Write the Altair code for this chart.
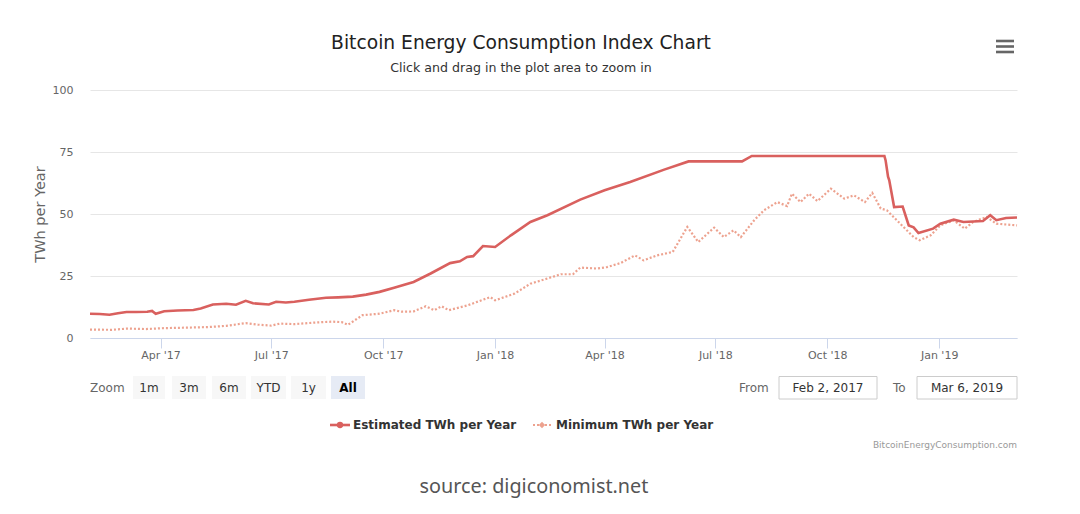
import altair as alt
import pandas as pd

# ---------------- data ----------------
est_dates = [
    "2017-02-02", "2017-02-10", "2017-02-18", "2017-02-25", "2017-03-04", "2017-03-12",
    "2017-03-21", "2017-03-25", "2017-03-28", "2017-04-04", "2017-04-15", "2017-04-28",
    "2017-05-04", "2017-05-14", "2017-05-25", "2017-06-02", "2017-06-10", "2017-06-16",
    "2017-06-29", "2017-07-05", "2017-07-13", "2017-07-20", "2017-08-01", "2017-08-15",
    "2017-08-25", "2017-09-06", "2017-09-17", "2017-09-28", "2017-10-10", "2017-10-26",
    "2017-11-09", "2017-11-25", "2017-12-03", "2017-12-09", "2017-12-14", "2017-12-22",
    "2018-01-01", "2018-01-14", "2018-01-30", "2018-02-13", "2018-03-12", "2018-04-01",
    "2018-04-22", "2018-05-20", "2018-06-09", "2018-07-23", "2018-07-31", "2018-11-17",
    "2018-11-18", "2018-11-20", "2018-11-21", "2018-11-25", "2018-12-02", "2018-12-07",
    "2018-12-11", "2018-12-15", "2018-12-27", "2019-01-02", "2019-01-13", "2019-01-21",
    "2019-02-06", "2019-02-12", "2019-02-17", "2019-02-25", "2019-03-06",
]
est_values = [
    9.8, 9.7, 9.4, 10.0, 10.5, 10.5,
    10.6, 10.9, 9.8, 10.8, 11.1, 11.3,
    11.9, 13.5, 13.8, 13.4, 15.0, 14.0,
    13.5, 14.6, 14.3, 14.6, 15.4, 16.2,
    16.4, 16.7, 17.5, 18.6, 20.3, 22.6,
    26.0, 30.2, 30.9, 32.7, 33.0, 37.1,
    36.7, 41.4, 46.8, 49.5, 55.8, 59.6,
    62.9, 67.9, 71.2, 71.2, 73.4, 73.4,
    71.6, 65.0, 63.6, 52.8, 53.0, 45.4,
    44.6, 42.3, 44.1, 46.1, 47.7, 46.8,
    47.2, 49.5, 47.5, 48.4, 48.6,
]

min_dates = [
    "2017-02-02", "2017-02-20", "2017-03-05", "2017-03-20", "2017-04-05", "2017-04-25",
    "2017-05-10", "2017-05-25", "2017-06-10", "2017-06-20", "2017-07-01", "2017-07-08",
    "2017-07-20", "2017-08-05", "2017-08-20", "2017-08-28", "2017-09-02", "2017-09-14",
    "2017-09-28", "2017-10-10", "2017-10-16", "2017-10-26", "2017-11-05", "2017-11-12",
    "2017-11-18", "2017-11-24", "2017-12-09", "2017-12-28", "2018-01-01", "2018-01-17",
    "2018-01-30", "2018-02-13", "2018-02-24", "2018-03-06", "2018-03-12", "2018-03-26",
    "2018-04-03", "2018-04-14", "2018-04-26", "2018-05-03", "2018-05-14", "2018-05-27",
    "2018-06-08", "2018-06-17", "2018-06-30", "2018-07-08", "2018-07-16", "2018-07-22",
    "2018-08-02", "2018-08-10", "2018-08-21", "2018-08-29", "2018-09-02", "2018-09-09",
    "2018-09-16", "2018-09-23", "2018-10-04", "2018-10-15", "2018-10-23", "2018-11-01",
    "2018-11-07", "2018-11-14", "2018-11-19", "2018-11-30", "2018-12-11", "2018-12-16",
    "2018-12-25", "2019-01-02", "2019-01-13", "2019-01-22", "2019-01-29", "2019-02-09",
    "2019-02-17", "2019-03-06",
]
min_values = [
    3.4, 3.3, 3.8, 3.6, 4.0, 4.2,
    4.4, 4.9, 6.0, 5.4, 5.0, 5.8,
    5.6, 6.2, 6.6, 6.4, 5.3, 9.2,
    9.8, 11.2, 10.6, 10.7, 12.8, 11.2,
    12.8, 11.2, 13.1, 16.5, 15.2, 17.9,
    21.9, 24.0, 25.7, 25.7, 28.4, 28.0,
    28.6, 30.2, 33.3, 31.3, 33.3, 34.7,
    44.8, 38.7, 44.5, 40.7, 43.4, 40.7,
    47.5, 51.5, 54.8, 53.2, 58.2, 54.8,
    58.2, 55.2, 60.2, 56.2, 57.5, 54.8,
    58.5, 52.2, 51.5, 46.1, 40.7, 39.4,
    41.4, 45.4, 47.5, 44.1, 46.8, 48.8,
    46.1, 45.4,
]

y_ticks = [0, 25, 50, 75, 100]
x_tick_months = [(2017, 4), (2017, 7), (2017, 10), (2018, 1), (2018, 4),
                 (2018, 7), (2018, 10), (2019, 1)]
zoom_buttons = ["1m", "3m", "6m", "YTD", "1y", "All"]

title_text = "Bitcoin Energy Consumption Index Chart"
subtitle_text = "Click and drag in the plot area to zoom in"
series_names = ["Estimated TWh per Year", "Minimum TWh per Year"]
from_text = "Feb 2, 2017"
to_text = "Mar 6, 2019"
credit_text = "BitcoinEnergyConsumption.com"
source_text = "source: digiconomist.net"

# ---------------- styling ----------------
FONT = "DejaVu Sans"
W, H = 927, 248
EST_COLOR = "#d9605e"
MIN_COLOR = "#eda28f"

est_df = pd.DataFrame({"date": est_dates, "value": est_values})
min_df = pd.DataFrame({"date": min_dates, "value": min_values})
one = pd.DataFrame({"k": [0]})

x_enc = alt.X(
    "date:T",
    scale=alt.Scale(
        type="utc",
        domain=[alt.DateTime(year=2017, month=2, date=2, utc=True),
                alt.DateTime(year=2019, month=3, date=6, utc=True)],
    ),
    axis=alt.Axis(
        values=[alt.DateTime(year=y, month=m, date=1, utc=True) for y, m in x_tick_months],
        labelExpr="utcFormat(datum.value, \"%b '%y\")",
        labelFont=FONT, labelFontSize=11, labelColor="#666666",
        domainColor="#ccd6eb", tickColor="#ccd6eb", tickSize=10,
        grid=False, labelPadding=1, title=None, labelFlush=False,
    ),
)
y_enc = alt.Y(
    "value:Q",
    scale=alt.Scale(domain=[0, 100], nice=False),
    axis=alt.Axis(
        values=y_ticks, grid=True, gridColor="#e6e6e6", domain=False, ticks=False,
        labelPadding=17, labelFont=FONT, labelFontSize=11, labelColor="#666666",
        title="TWh per Year", titleFont=FONT, titleFontSize=14.5, titleColor="#666666",
        titleFontWeight="normal", titleX=-50, titleY=H / 2, titleAngle=270,
        titleAlign="center", titleBaseline="middle",
    ),
)

min_line = alt.Chart(min_df).mark_line(
    color=MIN_COLOR, strokeWidth=2.2, strokeDash=[2, 2]
).encode(x=x_enc, y=y_enc)
est_line = alt.Chart(est_df).mark_line(
    color=EST_COLOR, strokeWidth=2.6
).encode(x=x_enc, y=y_enc)


def txt(s, x, y, size=12, color="#333333", align="left", weight="normal", font=FONT):
    return alt.Chart(one).mark_text(
        text=s, align=align, baseline="middle", fontSize=size, color=color,
        fontWeight=weight, font=font,
    ).encode(x=alt.value(x), y=alt.value(y))


def box(x0, x1, y0, y1, fill, stroke=None):
    kw = dict(fill=fill)
    if stroke:
        kw.update(stroke=stroke, strokeWidth=1)
    return alt.Chart(one).mark_rect(**kw).encode(
        x=alt.value(x0), x2=alt.value(x1), y=alt.value(y0), y2=alt.value(y1))


def hline(x0, x1, y, color, width, dash=None):
    kw = dict(color=color, strokeWidth=width)
    if dash:
        kw.update(strokeDash=dash)
    return alt.Chart(one).mark_rule(**kw).encode(
        x=alt.value(x0), x2=alt.value(x1), y=alt.value(y))


def dot(x, y, shape, color, size):
    return alt.Chart(one).mark_point(shape=shape, filled=True, color=color, size=size,
                                     opacity=1).encode(x=alt.value(x), y=alt.value(y))


decor = []
# title / subtitle
decor.append(txt(title_text, 431, -47, size=18.7, color="#222222", align="center"))
decor.append(txt(subtitle_text, 431, -22, size=12.6, color="#333333", align="center"))
# hamburger menu
for yy in (-49, -43.5, -38):
    decor.append(hline(906, 924, yy, "#666666", 2.6))

# range selector
decor.append(txt("Zoom", 0, 297.5, size=12, color="#666666"))
btn_x = [(43, 75), (82, 116), (122, 156), (161, 196), (201, 236), (241, 275)]
for lbl, (bx0, bx1) in zip(zoom_buttons, btn_x):
    sel = lbl == "All"
    decor.append(box(bx0, bx1, 286, 309, "#e6ebf5" if sel else "#f7f7f7"))
    decor.append(txt(lbl, (bx0 + bx1) / 2, 297.5, size=12,
                     color="#000000" if sel else "#333333", align="center",
                     weight="bold" if sel else "normal"))

decor.append(txt("From", 649, 297.5, size=12, color="#666666"))
decor.append(box(689, 787, 286.5, 309, "#ffffff", "#cccccc"))
decor.append(txt(from_text, 738, 297.5, size=12, color="#333333", align="center"))
decor.append(txt("To", 803, 297.5, size=12, color="#666666"))
decor.append(box(827, 927, 286.5, 309, "#ffffff", "#cccccc"))
decor.append(txt(to_text, 877, 297.5, size=12, color="#333333", align="center"))

# legend
decor.append(hline(240, 260, 335, EST_COLOR, 2.6))
decor.append(dot(250, 335, "circle", EST_COLOR, 40))
decor.append(txt(series_names[0], 263, 335, size=12, color="#333333", weight="bold"))
decor.append(hline(443, 461, 335, MIN_COLOR, 2.2, dash=[2, 2]))
decor.append(dot(452, 335, "diamond", MIN_COLOR, 40))
decor.append(txt(series_names[1], 466, 335, size=12, color="#333333", weight="bold"))

# credits and source
decor.append(txt(credit_text, 927, 355, size=9, color="#999999", align="right"))
decor.append(txt(source_text, 444, 397, size=19.8, color="#555555", align="center",
                 font="Noto Sans"))

chart = alt.layer(min_line, est_line, *decor).properties(
    width=W, height=H,
    autosize=alt.AutoSizeParams(type="none"),
    padding={"left": 82, "top": 82, "right": 55, "bottom": 164},
).configure(
    background="white",
    view=alt.ViewConfig(strokeWidth=0, stroke=None),
)

chart.save("out.html", embed_options={"renderer": "svg", "actions": False})
